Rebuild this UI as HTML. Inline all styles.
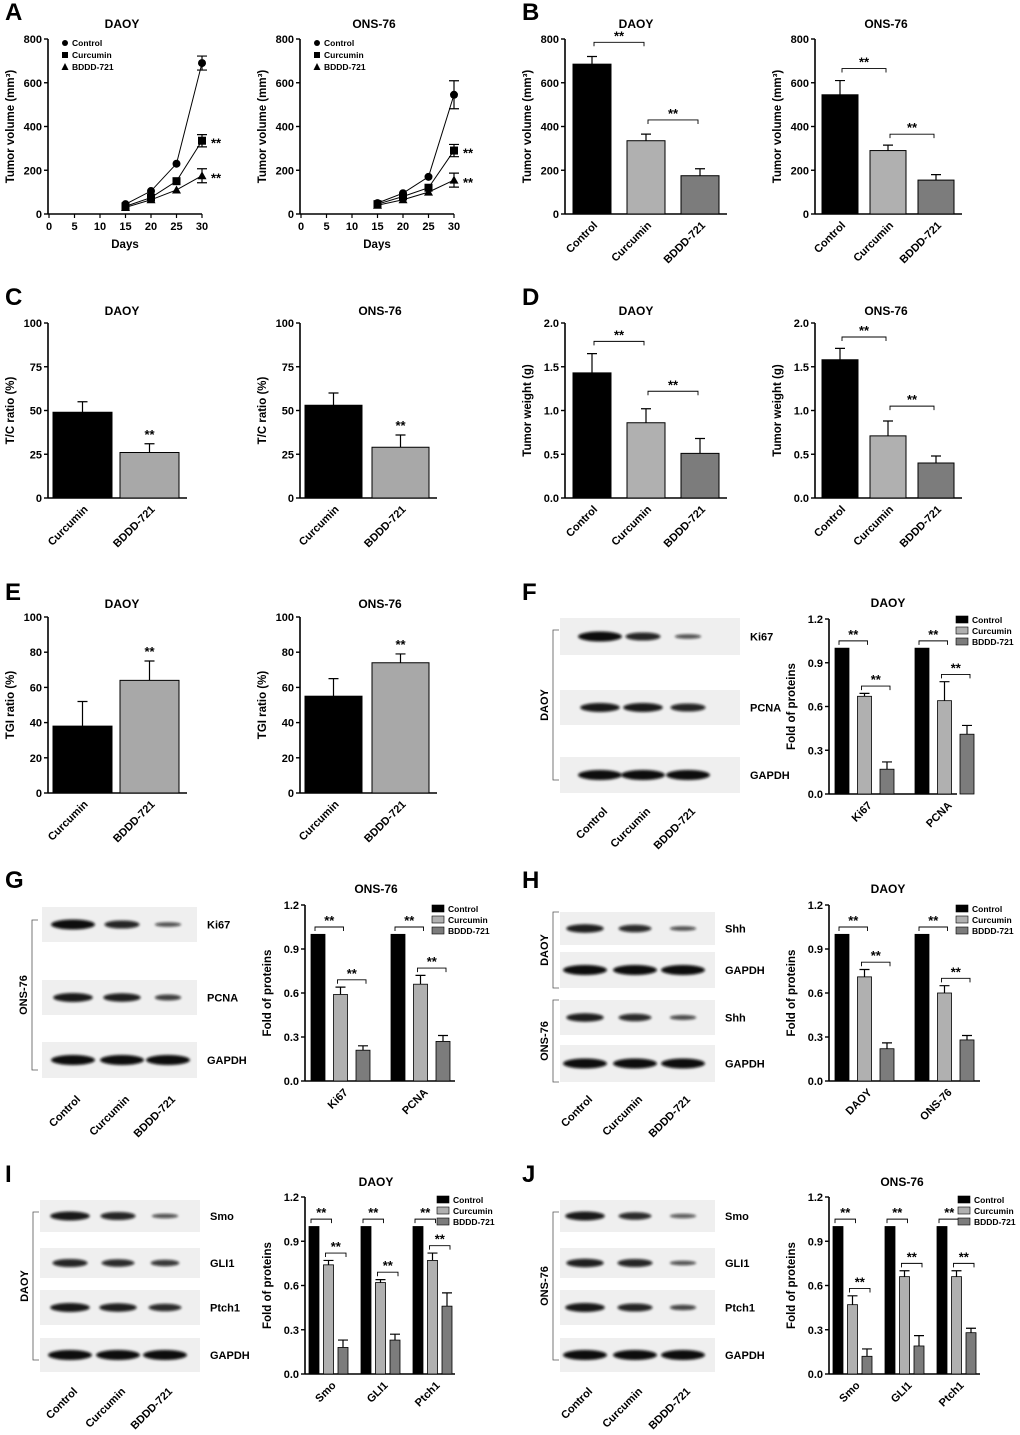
<!DOCTYPE html>
<html><head><meta charset="utf-8"><style>
body{margin:0;background:#fff}
svg{display:block;font-family:"Liberation Sans",Arial,sans-serif;font-weight:bold}
</style></head><body>
<svg id="fig" width="1020" height="1435" viewBox="0 0 1020 1435" xmlns="http://www.w3.org/2000/svg"></svg>
<script>
// ---------- data ----------
const daysCats = [15, 20, 25, 30];
const daoyControlVol = [45, 105, 230, 690];
const daoyCurcuminVol = [35, 75, 150, 335];
const daoyBdddVol = [30, 65, 110, 175];
const onsControlVol = [50, 95, 170, 545];
const onsCurcuminVol = [45, 80, 120, 290];
const onsBdddVol = [40, 65, 100, 155];
const treatCats = ["Control", "Curcumin", "BDDD-721"];
const bDaoyVals = [685, 335, 175];
const bDaoyErrs = [35, 30, 32];
const bOnsVals = [545, 290, 155];
const bOnsErrs = [65, 25, 25];
const tcCats = ["Curcumin", "BDDD-721"];
const cDaoyVals = [49, 26];
const cDaoyErrs = [6, 5];
const cOnsVals = [53, 29];
const cOnsErrs = [7, 7];
const dDaoyVals = [1.43, 0.86, 0.51];
const dDaoyErrs = [0.22, 0.16, 0.17];
const dOnsVals = [1.58, 0.71, 0.40];
const dOnsErrs = [0.13, 0.17, 0.08];
const eDaoyVals = [38, 64];
const eDaoyErrs = [14, 11];
const eOnsVals = [55, 74];
const eOnsErrs = [10, 5];
const fCats = ["Ki67", "PCNA"];
const fControl = [1, 1];
const fCurcumin = [0.67, 0.64];
const fBddd = [0.17, 0.41];
const fCurErr = [0.02, 0.13];
const fBdErr = [0.05, 0.06];
const gCats = ["Ki67", "PCNA"];
const gControl = [1, 1];
const gCurcumin = [0.59, 0.66];
const gBddd = [0.21, 0.27];
const gCurErr = [0.05, 0.06];
const gBdErr = [0.03, 0.04];
const hCats = ["DAOY", "ONS-76"];
const hControl = [1, 1];
const hCurcumin = [0.71, 0.60];
const hBddd = [0.22, 0.28];
const hCurErr = [0.05, 0.05];
const hBdErr = [0.04, 0.03];
const iCats = ["Smo", "GLI1", "Ptch1"];
const iControl = [1, 1, 1];
const iCurcumin = [0.74, 0.62, 0.77];
const iBddd = [0.18, 0.23, 0.46];
const iCurErr = [0.03, 0.02, 0.05];
const iBdErr = [0.05, 0.04, 0.09];
const jCats = ["Smo", "GLI1", "Ptch1"];
const jControl = [1, 1, 1];
const jCurcumin = [0.47, 0.66, 0.66];
const jBddd = [0.12, 0.19, 0.28];
const jCurErr = [0.06, 0.04, 0.04];
const jBdErr = [0.05, 0.07, 0.03];

// ---------- helpers ----------
const S = document.getElementById('fig');
const NS = 'http://www.w3.org/2000/svg';
const COLS = ['#000', '#b0b0b0', '#7c7c7c'];
function mk(tag, attrs, name, parent, txt) {
  const el = document.createElementNS(NS, tag);
  for (const k in attrs) el.setAttribute(k, attrs[k]);
  
  
  if (txt !== undefined) el.textContent = txt;
  (parent || S).appendChild(el);
  return el;
}
function txt(x, y, s, size, name, anchor, rot, p) {
  const a = {x: x, y: y, 'font-size': size, 'text-anchor': anchor || 'middle'};
  if (rot) a.transform = `rotate(${rot} ${x} ${y})`;
  return mk('text', a, name, p, s);
}
function axes(g, ax, y0, yt, max, step, dec, ylabel, title, xEnd) {
  const sy = v => y0 - (v / max) * (y0 - yt);
  mk('line', {x1: ax, y1: y0 + 0.5, x2: ax, y2: yt, stroke: '#000', 'stroke-width': 1.6}, 'y-axis', g);
  mk('line', {x1: ax, y1: y0, x2: xEnd, y2: y0, stroke: '#000', 'stroke-width': 1.6}, 'x-axis', g);
  for (let v = 0; v <= max + 1e-9; v += step) {
    const y = sy(v);
    mk('line', {x1: ax - 4, y1: y, x2: ax, y2: y, stroke: '#000', 'stroke-width': 1.4}, 'y-tick', g);
    txt(ax - 6, y + 4, v.toFixed(dec), 11, 'y-tick-label', 'end', 0, g);
  }
  txt(ax - 34, (y0 + yt) / 2, ylabel, 11.5, 'y-axis-title', 'middle', -90, g);
  if (title) txt(title[0], title[1], title[2], 12, 'chart-title', 'middle', 0, g);
  return sy;
}
function letter(x, y, L) { txt(x, y, L, 24, 'panel-letter-' + L, 'start'); }
function star(x, y, g) { txt(x, y, '**', 13, 'significance-stars', 'middle', 0, g); }
function bracket(x1, x2, y, g) {
  mk('path', {d: `M${x1} ${y + 4}V${y}H${x2}V${y + 4}`, fill: 'none', stroke: '#000', 'stroke-width': 0.9}, 'significance-bracket', g);
  star((x1 + x2) / 2, y - 2, g);
}
function err(x, y, ye, g) {
  mk('path', {d: `M${x} ${y}V${ye}M${x - 5} ${ye}H${x + 5}`, stroke: '#000', 'stroke-width': 1.2, fill: 'none'}, 'error-bar', g);
}

function simpleBars(name, ax, y0, yt, max, step, dec, ylabel, title, cats, vals, errs, x0, w, gap, cols, brackets, starAbove) {
  const g = mk('g', {}, name);
  const n = cats.length;
  const xEnd = x0 + n * w + (n - 1) * gap + 8;
  const sy = axes(g, ax, y0, yt, max, step, dec, ylabel, title, xEnd);
  const cx = [];
  for (let i = 0; i < n; i++) {
    const x = x0 + i * (w + gap);
    cx.push(x + w / 2);
    err(x + w / 2, sy(vals[i]), sy(vals[i] + errs[i]), g);
    mk('rect', {x: x, y: sy(vals[i]), width: w, height: y0 - sy(vals[i]), fill: cols[i], stroke: '#000', 'stroke-width': 1}, 'bar-' + cats[i].toLowerCase(), g);
    txt(x + w / 2 + 6, y0 + 12, cats[i], 11, 'x-tick-label', 'end', -45, g);
  }
  (brackets || []).forEach(b => bracket(cx[b[0]] + 2, cx[b[1]] - 2, sy(b[2]), g));
  if (starAbove !== undefined) star(cx[starAbove], sy(vals[starAbove] + errs[starAbove]) - 5, g);
}

function groupBars(name, ax, y0, yt, title, cats, ctrl, cur, bd, curE, bdE, x0, gw, legY, w, gap, legX, xEnd) {
  const g = mk('g', {}, name);
  const sy = axes(g, ax, y0, yt, 1.2, 0.3, 1, 'Fold of proteins', title, xEnd);
  const series = [ctrl, cur, bd], errsArr = [null, curE, bdE];
  cats.forEach((c, i) => {
    const gx = x0 + i * gw;
    const cx = [];
    for (let s = 0; s < 3; s++) {
      const x = gx + s * (w + gap);
      cx.push(x + w / 2);
      const v = series[s][i];
      if (errsArr[s]) err(x + w / 2, sy(v), sy(v + errsArr[s][i]), g);
      mk('rect', {x: x, y: sy(v), width: w, height: y0 - sy(v), fill: COLS[s], stroke: '#000', 'stroke-width': 0.8}, 'bar-' + c.toLowerCase() + '-' + s, g);
    }
    bracket(cx[0] - 3, cx[1] + 3, sy(1.05), g);
    bracket(cx[1] - 3, cx[2] + 3, sy(Math.max(cur[i] + curE[i], bd[i] + bdE[i]) + 0.05), g);
    txt(cx[1] + 8, y0 + 12, c, 11, 'x-tick-label', 'end', -45, g);
  });
  ['Control', 'Curcumin', 'BDDD-721'].forEach((s, k) => {
    mk('rect', {x: legX, y: legY + k * 11 - 7, width: 12, height: 7, fill: COLS[k], stroke: '#000', 'stroke-width': 0.6}, 'legend-swatch', g);
    txt(legX + 16, legY + k * 11, s, 8.5, 'legend-entry', 'start', 0, g);
  });
}

function lineChart(name, ax, title, s1, s2, s3) {
  const g = mk('g', {}, name);
  const y0 = 214, yt = 39, xr = ax + 154;
  const sy = axes(g, ax, y0, yt, 800, 200, 0, 'Tumor volume (mm³)', [ax + 74, 28, title], xr);
  const sx = d => ax + 1 + d / 30 * 153;
  for (let d = 0; d <= 30; d += 5) {
    mk('line', {x1: sx(d), y1: y0, x2: sx(d), y2: y0 + 4, stroke: '#000', 'stroke-width': 1.2}, 'x-tick', g);
    txt(sx(d), y0 + 16, d, 11, 'x-tick-label', 'middle', 0, g);
  }
  txt(ax + 77, 248, 'Days', 11.5, 'x-axis-title', 'middle', 0, g);
  const errsL = [[3, 2, 3, 32], [3, 3, 4, 28], [3, 3, 4, 32]];
  [s1, s2, s3].forEach((s, k) => {
    mk('polyline', {points: s.map((v, i) => sx(daysCats[i]) + ',' + sy(v)).join(' '), fill: 'none', stroke: '#000', 'stroke-width': 1}, 'series-line-' + k, g);
    s.forEach((v, i) => {
      const x = sx(daysCats[i]), y = sy(v);
      if (i === 3) { const e = errsL[k][3] * (title === 'ONS-76' && k === 0 ? 2 : 1); err(x, y, sy(v + e), g); err(x, y, sy(v - e), g); }
      if (k === 0) mk('circle', {cx: x, cy: y, r: 4}, 'marker-control', g);
      else if (k === 1) mk('rect', {x: x - 4, y: y - 4, width: 8, height: 8}, 'marker-curcumin', g);
      else mk('path', {d: `M${x} ${y - 4.5}L${x + 4.5} ${y + 3.5}L${x - 4.5} ${y + 3.5}Z`}, 'marker-bddd', g);
    });
    if (k > 0) txt(sx(30) + 14, sy(s[3]) + 7, '**', 13, 'significance-stars', 'middle', 0, g);
  });
  ['Control', 'Curcumin', 'BDDD-721'].forEach((n, k) => {
    const lx = ax + 17, ly = 46 + k * 12;
    if (k === 0) mk('circle', {cx: lx, cy: ly - 3, r: 3}, 'legend-marker', g);
    else if (k === 1) mk('rect', {x: lx - 3, y: ly - 6, width: 6, height: 6}, 'legend-marker', g);
    else mk('path', {d: `M${lx} ${ly - 7}L${lx + 3.5} ${ly}L${lx - 3.5} ${ly}Z`}, 'legend-marker', g);
    txt(lx + 7, ly, n, 8.5, 'legend-entry', 'start', 0, g);
  });
}

function blot(name, x, w, rows, lanes, sideLabels, brX, lbls) {
  const g = mk('g', {}, name);
  const defs = mk('defs', {}, 'blot-defs', g);
  const f = mk('filter', {id: 'bl' + name, x: '-20%', y: '-50%', width: '140%', height: '200%'}, 'blur', defs);
  mk('feGaussianBlur', {stdDeviation: 1.2}, 'blur-fx', f);
  rows.forEach(r => {
    mk('rect', {x: x, y: r[1], width: w, height: r[2] - r[1], fill: '#efefef'}, 'blot-strip-' + r[0].toLowerCase(), g);
    const cy = (r[1] + r[2]) / 2;
    lanes.forEach((lx, i) => {
      const s = r[3][i];
      mk('ellipse', {cx: lx, cy: cy, rx: 22 * Math.max(0.6, s), ry: 5 * Math.max(0.45, s), fill: '#080808', opacity: 0.45 + 0.55 * s, filter: `url(#bl${name})`}, 'blot-band', g);
    });
    txt(x + w + 10, cy + 4, r[0], 11, 'blot-label', 'start', 0, g);
  });
  sideLabels.forEach(s => {
    mk('path', {d: `M${brX + 6} ${s[1]}H${brX}V${s[2]}H${brX + 6}`, fill: 'none', stroke: '#555', 'stroke-width': 0.8}, 'blot-group-bracket', g);
    txt(brX - 5, (s[1] + s[2]) / 2, s[0], 11, 'blot-group-label', 'middle', -90, g);
  });
  lanes.forEach((lx, i) => txt(lx + 8, lbls, treatCats[i], 11, 'lane-label', 'end', -45, g));
}

// ---------- build ----------
letter(5, 20, 'A'); letter(522, 20, 'B'); letter(5, 305, 'C'); letter(522, 305, 'D');
letter(5, 600, 'E'); letter(522, 600, 'F'); letter(5, 888, 'G'); letter(522, 888, 'H');
letter(5, 1182, 'I'); letter(522, 1182, 'J');

lineChart('chart-a-daoy', 48, 'DAOY', daoyControlVol, daoyCurcuminVol, daoyBdddVol);
lineChart('chart-a-ons76', 300, 'ONS-76', onsControlVol, onsCurcuminVol, onsBdddVol);

simpleBars('chart-b-daoy', 565, 214, 39, 800, 200, 0, 'Tumor volume (mm³)', [636, 28, 'DAOY'], treatCats, bDaoyVals, bDaoyErrs, 573, 38, 16, COLS, [[0, 1, 785], [1, 2, 430]]);
simpleBars('chart-b-ons76', 815, 214, 39, 800, 200, 0, 'Tumor volume (mm³)', [886, 28, 'ONS-76'], treatCats, bOnsVals, bOnsErrs, 822, 36, 12, COLS, [[0, 1, 665], [1, 2, 365]]);

simpleBars('chart-c-daoy', 48, 498, 323, 100, 25, 0, 'T/C ratio (%)', [122, 315, 'DAOY'], tcCats, cDaoyVals, cDaoyErrs, 53, 59, 8, ['#000', '#a8a8a8'], [], 1);
simpleBars('chart-c-ons76', 300, 498, 323, 100, 25, 0, 'T/C ratio (%)', [380, 315, 'ONS-76'], tcCats, cOnsVals, cOnsErrs, 305, 57, 10, ['#000', '#a8a8a8'], [], 1);

simpleBars('chart-d-daoy', 565, 498, 323, 2.0, 0.5, 1, 'Tumor weight (g)', [636, 315, 'DAOY'], treatCats, dDaoyVals, dDaoyErrs, 573, 38, 16, COLS, [[0, 1, 1.79], [1, 2, 1.22]]);
simpleBars('chart-d-ons76', 815, 498, 323, 2.0, 0.5, 1, 'Tumor weight (g)', [886, 315, 'ONS-76'], treatCats, dOnsVals, dOnsErrs, 822, 36, 12, COLS, [[0, 1, 1.84], [1, 2, 1.05]]);

simpleBars('chart-e-daoy', 48, 793, 617, 100, 20, 0, 'TGI ratio (%)', [122, 608, 'DAOY'], tcCats, eDaoyVals, eDaoyErrs, 53, 59, 8, ['#000', '#a8a8a8'], [], 1);
simpleBars('chart-e-ons76', 300, 793, 617, 100, 20, 0, 'TGI ratio (%)', [380, 608, 'ONS-76'], tcCats, eOnsVals, eOnsErrs, 305, 57, 10, ['#000', '#a8a8a8'], [], 1);

groupBars('chart-f', 829, 794, 619, [888, 607, 'DAOY'], fCats, fControl, fCurcumin, fBddd, fCurErr, fBdErr, 835, 80, 623, 14, 8.5, 956, 957);
groupBars('chart-g', 305, 1081, 905, [376, 893, 'ONS-76'], gCats, gControl, gCurcumin, gBddd, gCurErr, gBdErr, 311, 80, 912, 14, 8.5, 432, 455);
groupBars('chart-h', 829, 1081, 905, [888, 893, 'DAOY'], hCats, hControl, hCurcumin, hBddd, hCurErr, hBdErr, 835, 80, 912, 14, 8.5, 956, 980);
groupBars('chart-i', 305, 1374, 1197, [376, 1186, 'DAOY'], iCats, iControl, iCurcumin, iBddd, iCurErr, iBdErr, 309, 52, 1203, 10, 4.5, 437, 455);
groupBars('chart-j', 829, 1374, 1197, [902, 1186, 'ONS-76'], jCats, jControl, jCurcumin, jBddd, jCurErr, jBdErr, 833, 52, 1203, 10, 4.5, 958, 980);

blot('blot-f', 560, 180, [['Ki67', 618, 655, [1, 0.8, 0.45]], ['PCNA', 690, 725, [0.9, 0.9, 0.8]], ['GAPDH', 757, 793, [1, 1, 1]]], [600, 643, 688], [['DAOY', 630, 780]], 553, 812);
blot('blot-g', 42, 155, [['Ki67', 907, 942, [1, 0.8, 0.45]], ['PCNA', 980, 1015, [0.9, 0.85, 0.6]], ['GAPDH', 1042, 1078, [1, 1, 1]]], [73, 122, 168], [['ONS-76', 920, 1070]], 32, 1100);
blot('blot-h', 560, 155, [['Shh', 912, 945, [0.85, 0.75, 0.45]], ['GAPDH', 952, 988, [1, 1, 1]], ['Shh', 1000, 1035, [0.85, 0.75, 0.5]], ['GAPDH', 1045, 1082, [1, 1, 1]]], [585, 635, 683], [['DAOY', 912, 988], ['ONS-76', 1000, 1082]], 553, 1100);
blot('blot-i', 40, 160, [['Smo', 1200, 1232, [0.9, 0.8, 0.45]], ['GLI1', 1248, 1278, [0.8, 0.75, 0.65]], ['Ptch1', 1290, 1325, [0.9, 0.85, 0.75]], ['GAPDH', 1338, 1372, [1, 1, 1]]], [70, 118, 165], [['DAOY', 1212, 1360]], 33, 1392);
blot('blot-j', 560, 155, [['Smo', 1200, 1232, [0.9, 0.75, 0.35]], ['GLI1', 1248, 1278, [0.85, 0.8, 0.45]], ['Ptch1', 1290, 1325, [0.9, 0.8, 0.55]], ['GAPDH', 1338, 1372, [1, 1, 1]]], [585, 635, 683], [['ONS-76', 1212, 1360]], 553, 1392);
</script>
</body></html>
